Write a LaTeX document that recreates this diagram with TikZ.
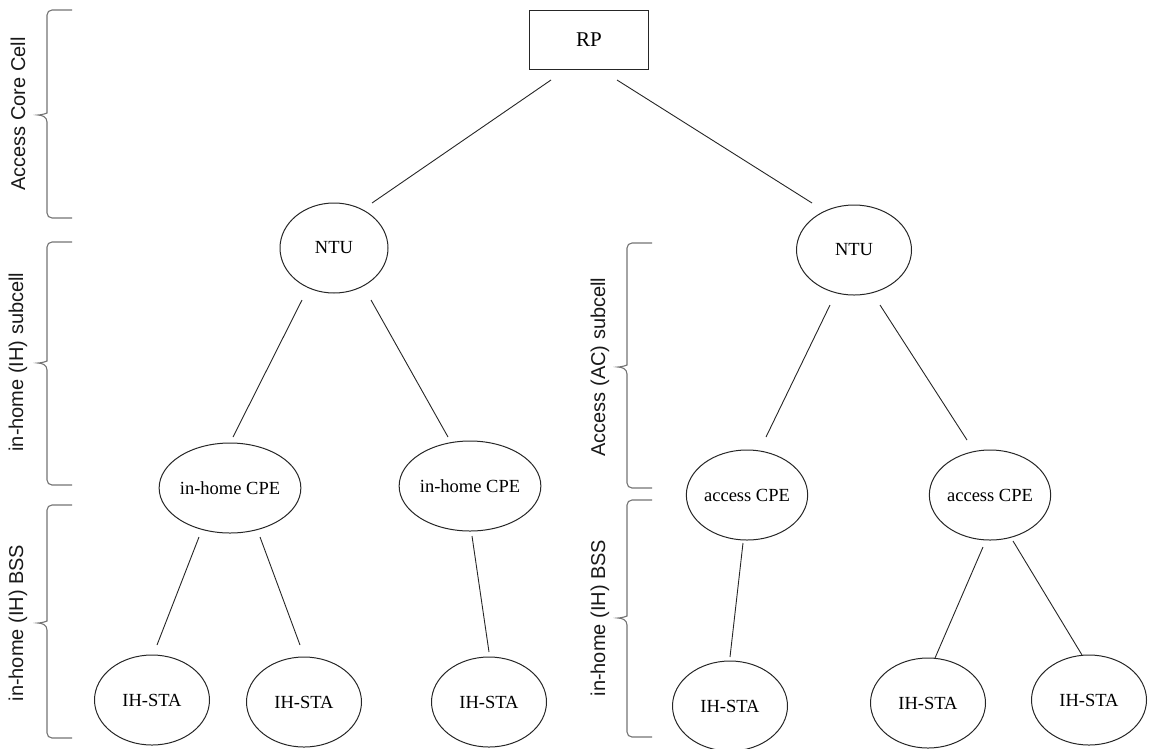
\documentclass[tikz,border=0pt]{standalone}
\usepackage{fontspec}
\setmainfont{Liberation Serif}
\newfontfamily\labelsans{Liberation Sans}
\usetikzlibrary{shapes.geometric}
\tikzset{
  nodeell/.style={draw=black!85, line width=1pt, ellipse, inner sep=0pt,
    minimum width=115pt, minimum height=90pt, font=\fontsize{18.5}{22}\selectfont},
  rpbox/.style={draw=black!85, line width=1.1pt, rectangle, inner sep=0pt,
    minimum width=119pt, minimum height=59pt, font=\fontsize{21}{25}\selectfont},
  link/.style={draw=black!85, line width=0.9pt},
  bracestyle/.style={draw=black!55, line width=1.1pt, rounded corners=5pt},
  sidelabel/.style={rotate=90, font=\labelsans\fontsize{20}{24}\selectfont, text=black!90}
}
\newcommand\drawbrace[4]{% #1 x of vertical, #2 top, #3 tip y, #4 bottom
  \draw[bracestyle] ({#1+25},{-#2}) -- ({#1},{-#2}) -- ({#1},{-#3+7})
    [sharp corners] .. controls ({#1},{-#3+2}) and ({#1-5},{-#3}) .. ({#1-9},{-#3})
    .. controls ({#1-5},{-#3}) and ({#1},{-#3-2}) .. ({#1},{-#3-7})
    [rounded corners=5pt] -- ({#1},{-#4}) -- ({#1+25},{-#4});
}
\begin{document}
\begin{tikzpicture}[x=1pt,y=1pt]
\useasboundingbox (0,0) rectangle (1150,-748);

% nodes
\node[rpbox] (RP) at (589,-40) {RP};
\node[nodeell, minimum width=108pt] (NTUL) at (334,-248) {NTU};
\node[nodeell] (NTUR) at (854,-250) {NTU};
\node[nodeell] (CPE1) at (230,-488) {in-home CPE};
\node[nodeell] (CPE2) at (470,-486) {in-home CPE};
\node[nodeell] (ACPE1) at (747,-495) {access CPE};
\node[nodeell] (ACPE2) at (990,-495) {access CPE};
\node[nodeell] (STA1) at (152,-700) {IH-STA};
\node[nodeell] (STA2) at (304,-702) {IH-STA};
\node[nodeell] (STA3) at (489,-702) {IH-STA};
\node[nodeell] (STA4) at (730,-706) {IH-STA};
\node[nodeell] (STA5) at (928,-703) {IH-STA};
\node[nodeell] (STA6) at (1089,-700) {IH-STA};

% connectors
\draw[link] ([shift={(-38,-40)}]RP.center) -- ([shift={(38,45)}]NTUL.center);
\draw[link] ([shift={(28,-40)}]RP.center) -- ([shift={(-42,47)}]NTUR.center);
\draw[link] ([shift={(-32,-52)}]NTUL.center) -- ([shift={(3,51)}]CPE1.center);
\draw[link] ([shift={(37,-52)}]NTUL.center) -- ([shift={(-22,49)}]CPE2.center);
\draw[link] ([shift={(-24,-55)}]NTUR.center) -- ([shift={(19,58)}]ACPE1.center);
\draw[link] ([shift={(26,-55)}]NTUR.center) -- ([shift={(-23,55)}]ACPE2.center);
\draw[link] ([shift={(-31,-49)}]CPE1.center) -- ([shift={(5,55)}]STA1.center);
\draw[link] ([shift={(30,-49)}]CPE1.center) -- ([shift={(-4,57)}]STA2.center);
\draw[link] ([shift={(2,-50)}]CPE2.center) -- ([shift={(0,50)}]STA3.center);
\draw[link] ([shift={(-4,-48)}]ACPE1.center) -- ([shift={(0,49)}]STA4.center);
\draw[link] ([shift={(-7,-52)}]ACPE2.center) -- ([shift={(7,45)}]STA5.center);
\draw[link] ([shift={(23,-46)}]ACPE2.center) -- ([shift={(-7,45)}]STA6.center);

% braces
\drawbrace{47}{10}{115}{218}
\drawbrace{47}{242}{363}{485}
\drawbrace{47}{505}{623}{738}
\drawbrace{627}{243}{367}{488}
\drawbrace{627}{500}{618}{737}

% side labels
\node[sidelabel] (L1) at (18,-114) {Access Core Cell};
\node[sidelabel] (L2) at (18,-362) {in-home (IH) subcell};
\node[sidelabel] (L3) at (18,-623) {in-home (IH) BSS};
\node[sidelabel] (L4) at (600,-367) {Access (AC) subcell};
\node[sidelabel] (L5) at (600,-618) {in-home (IH) BSS};
\end{tikzpicture}
\end{document}
